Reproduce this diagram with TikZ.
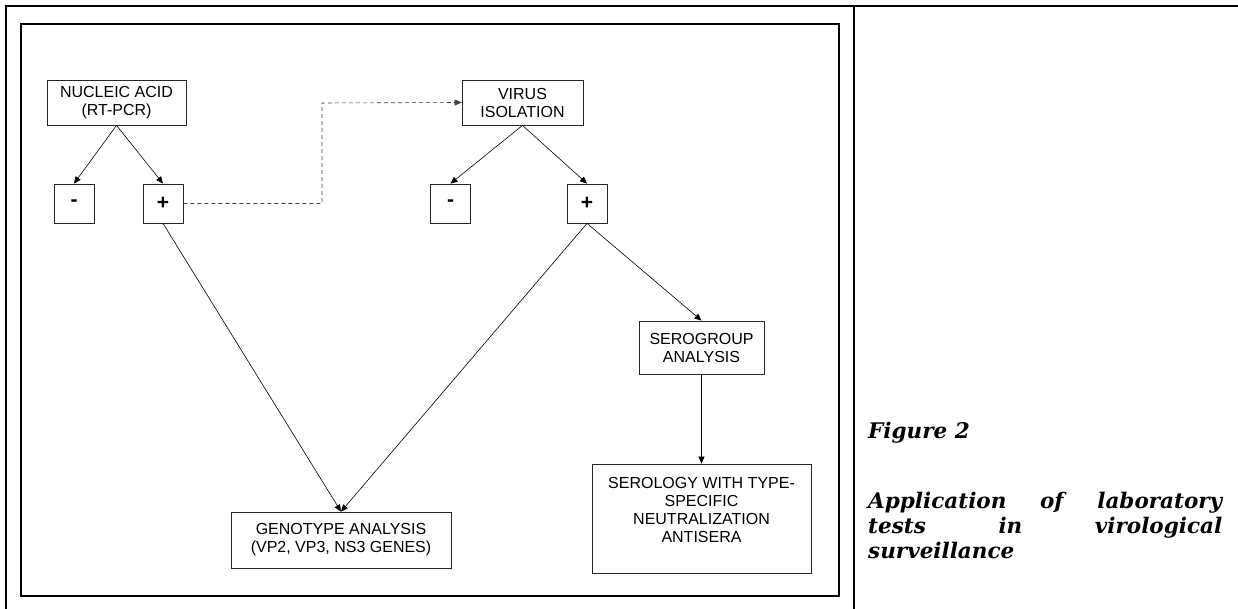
\documentclass[tikz,border=0pt]{standalone}
\usepackage{fontspec}
\setmainfont{Liberation Sans}
\newfontfamily\capfont{DejaVu Serif}
\usetikzlibrary{arrows.meta}
\begin{document}
\begin{tikzpicture}[x=1pt,y=-1pt,
  box/.style={draw=black!85,line width=0.8pt,inner sep=0pt,align=center,font=\fontsize{16}{18}\selectfont},
  sign/.style={box,minimum width=40pt,minimum height=39pt,font=\fontsize{21}{21}\selectfont\bfseries},
  arr/.style={-{Triangle[length=7pt,width=6pt]},line width=0.6pt},
  frame/.style={line width=2pt},
  captext/.style={font=\capfont\bfseries\itshape\fontsize{21.5}{25}\selectfont}]
\useasboundingbox (0,0) rectangle (1238,609);
% frames
\draw[frame] (6,609) -- (6,6) -- (1238,6);
\draw[frame] (854,6) -- (854,609);
\draw[frame] (21,24) rectangle (839,596);
% nodes
\node[box,minimum width=139pt,minimum height=45pt] (nuc) at (116.5,102.5) {NUCLEIC ACID\\(RT-PCR)};
\node[sign] (neg1) at (74,203.5) {-};
\node[sign] (pos1) at (163,203.5) {+};
\node[box,minimum width=121pt,minimum height=45pt] (vir) at (522.5,102.5) {VIRUS\\ISOLATION};
\node[sign] (neg2) at (450.5,203.5) {-};
\node[sign] (pos2) at (587,203.5) {+};
\node[box,minimum width=125pt,minimum height=53pt] (sero) at (701.5,347.5) {SEROGROUP\\ANALYSIS};
\node[box,minimum width=220pt,minimum height=56pt] (geno) at (341,540) {GENOTYPE ANALYSIS\\(VP2, VP3, NS3 GENES)};
\node[box,minimum width=219pt,minimum height=109pt] (serol) at (701.5,518.5) {SEROLOGY WITH TYPE-\\SPECIFIC\\NEUTRALIZATION\\ANTISERA\\\mbox{}};
\coordinate (dk) at (322,103);
% connectors
\draw[arr] (nuc.south) -- (neg1.north);
\draw[arr] (nuc.south) -- (pos1.north);
\draw[arr,black!75,dash pattern=on 4pt off 3pt] (pos1.east) -| (dk) -- (vir.west);
\draw[arr] (vir.south) -- (neg2.north);
\draw[arr] (vir.south) -- (pos2.north);
\draw[arr] (pos1.south) -- (geno.north);
\draw[arr] (pos2.south) -- (geno.north);
\draw[arr] (pos2.south) -- (sero.north);
\draw[arr] (sero.south) -- (serol.north);
% caption
\node[captext,anchor=base west,inner sep=0pt] (fig) at (868,438) {Figure 2};
\node[captext,anchor=north west,inner sep=0pt,text width=354pt,align=justify] (cap) at (868,492) {Application of laboratory\linebreak tests in virological\linebreak surveillance};
\end{tikzpicture}
\end{document}
